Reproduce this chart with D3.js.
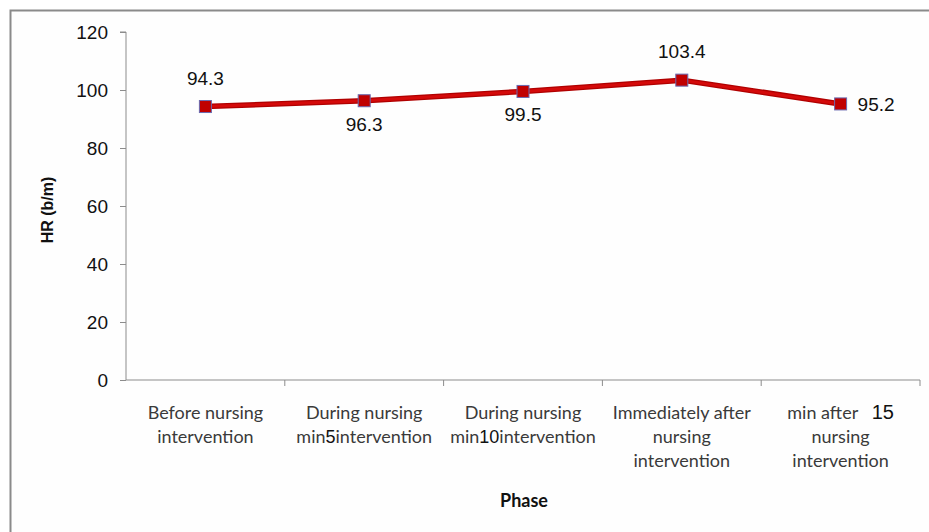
<!DOCTYPE html>
<html><head><meta charset="utf-8">
<script src="https://cdn.jsdelivr.net/npm/d3@7"></script>
<style>body{margin:0;background:#fff}svg{display:block}</style>
</head><body>
<script>
const categories = [
  ["Before nursing","intervention"],
  ["During nursing","min5intervention"],
  ["During nursing","min10intervention"],
  ["Immediately after","nursing","intervention"],
  ["min after   15","nursing","intervention"]
];
const values = [94.3, 96.3, 99.5, 103.4, 95.2];
const yTicks = [0,20,40,60,80,100,120];
const labelPos = ["above","below","below","above","right"];

const W=929,H=532;
const svg=d3.select("body").append("svg").attr("width",W).attr("height",H);
svg.append("rect").attr("x",10.5).attr("y",10.5).attr("width",W+20).attr("height",H+20)
  .attr("fill","#fefefe").attr("stroke","#8a8a8a").attr("stroke-width",2);

const m={l:126,r:920,t:32,b:380};
const x=d3.scaleBand().domain(d3.range(categories.length)).range([m.l,m.r]);
const y=d3.scaleLinear().domain([0,120]).range([m.b,m.t]);

const yAx=svg.append("g").attr("transform",`translate(${m.l},0)`)
  .call(d3.axisLeft(y).tickValues(yTicks).tickSize(6).tickPadding(12));
yAx.select(".domain").attr("stroke","#8c8c8c").attr("d",`M-6,${m.t}H0V${m.b}`);
yAx.selectAll(".tick line").attr("stroke","#8c8c8c");
yAx.selectAll(".tick text").attr("font-family","Liberation Sans, Arial").attr("font-size",19).attr("fill","#111");

const xAx=svg.append("g").attr("transform",`translate(0,${m.b})`)
  .call(d3.axisBottom(x).tickSize(0).tickFormat(""));
xAx.select(".domain").attr("stroke","#8c8c8c").attr("d",`M${m.l},0H${m.r}`);
const tickXs=d3.range(categories.length+1).map(i=>m.l+i*x.bandwidth());
xAx.selectAll("line.sep").data(tickXs.slice(1)).enter().append("line").attr("class","sep")
  .attr("x1",d=>d).attr("x2",d=>d).attr("y1",0).attr("y2",6).attr("stroke","#8c8c8c");

categories.forEach((lines,i)=>{
  const t=svg.append("text").attr("x",x(i)+x.bandwidth()/2).attr("y",419)
    .attr("text-anchor","middle").attr("font-family","Lato, Open Sans, sans-serif")
    .attr("font-size",18).attr("fill","#3a3a3a").style("white-space","pre");
  lines.forEach((ln,j)=>{
    const ts=t.append("tspan").attr("x",x(i)+x.bandwidth()/2).attr("dy",j?24:0);
    const parts=ln.split(/(\d+)/);
    parts.forEach(p=>{ if(!p) return;
      const s=ts.append("tspan").text(p);
      if(/\d/.test(p)) s.attr("font-family","Liberation Sans, Arial").attr("fill","#111").attr("font-size",p==="15"?20:18);
    });
  });
});

const cx=i=>x(i)+x.bandwidth()/2;
const line=d3.line().x((d,i)=>cx(i)).y(d=>y(d));
svg.append("path").datum(values).attr("d",line).attr("fill","none")
  .attr("stroke","#b00000").attr("stroke-width",5.5).attr("stroke-linejoin","round");
svg.append("path").datum(values).attr("d",line).attr("fill","none")
  .attr("stroke","#d40a0a").attr("stroke-width",3);
svg.selectAll("rect.mk").data(values).enter().append("rect").attr("class","mk")
  .attr("x",(d,i)=>cx(i)-6).attr("y",d=>y(d)-6).attr("width",12).attr("height",12)
  .attr("fill","#c00000").attr("stroke","#6a6ab0").attr("stroke-width",1);

svg.selectAll("text.lbl").data(values).enter().append("text").attr("class","lbl")
  .attr("x",(d,i)=>labelPos[i]==="right"?cx(i)+17:cx(i))
  .attr("y",(d,i)=>labelPos[i]==="above"?y(d)-22:labelPos[i]==="below"?y(d)+30:y(d)+7)
  .attr("text-anchor",(d,i)=>labelPos[i]==="right"?"start":"middle")
  .attr("font-family","Liberation Sans, Arial").attr("font-size",19).attr("fill","#111")
  .text(d=>d.toFixed(1));

svg.append("text").attr("transform","translate(53,210) rotate(-90)").attr("text-anchor","middle")
  .attr("font-family","Liberation Sans, Arial").attr("font-weight","bold").attr("font-size",16)
  .attr("fill","#111").text("HR (b/m)");
svg.append("text").attr("x",524).attr("y",507).attr("text-anchor","middle")
  .attr("font-family","Lato, Open Sans, sans-serif").attr("font-weight","bold").attr("font-size",18)
  .attr("fill","#111").text("Phase");
</script>
</body></html>
